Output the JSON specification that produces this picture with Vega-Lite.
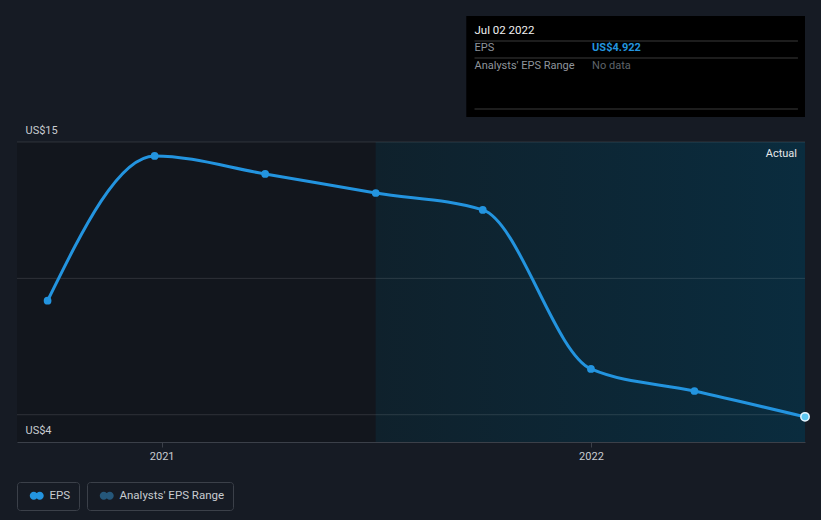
{
  "$schema": "https://vega.github.io/schema/vega-lite/v6.json",
  "width": 788,
  "height": 300,
  "autosize": {"type": "none"},
  "padding": {"left": 17, "top": 142, "right": 16, "bottom": 78},
  "background": "#161b24",
  "config": {
    "font": "Roboto",
    "view": {"stroke": null},
    "axis": {"labelFont": "Roboto", "labelColor": "#c8ccd1", "labelFontSize": 11}
  },
  "datasets": {
    "eps": [
      {"date": "2020-09-26", "eps": 9.18},
      {"date": "2020-12-26", "eps": 14.49},
      {"date": "2021-03-30", "eps": 13.83},
      {"date": "2021-07-02", "eps": 13.13},
      {"date": "2021-10-01", "eps": 12.51},
      {"date": "2022-01-01", "eps": 6.68},
      {"date": "2022-03-30", "eps": 5.87},
      {"date": "2022-07-02", "eps": 4.922}
    ],
    "regions": [
      {"start": "2020-08-31", "end": "2021-07-02", "region": "past"}
    ],
    "actual": [
      {"start": "2021-07-02", "end": "2022-07-02", "region": "Actual"}
    ],
    "grid": [{"v": 5}, {"v": 10}, {"v": 15}],
    "range": [],
    "one": [{}]
  },
  "layer": [
    {
      "data": {"name": "regions"},
      "mark": {"type": "rect", "color": "#12161d"},
      "encoding": {
        "x": {"field": "start", "type": "temporal", "scale": {"type": "utc", "domain": [{"year": 2020, "month": 8, "date": 31, "utc": true}, {"year": 2022, "month": 7, "date": 2, "utc": true}]},
          "axis": {"values": [{"year": 2021, "month": 1, "date": 1, "utc": true}, {"year": 2022, "month": 1, "date": 1, "utc": true}], "format": "%Y", "title": null, "grid": false, "domainColor": "#3b4049", "tickColor": "#3b4049", "tickSize": 5, "labelPadding": 3, "labelFlush": false, "zindex": 1}},
        "x2": {"field": "end"},
        "y": {"datum": 15, "type": "quantitative", "scale": {"domain": [4, 15], "nice": false, "zero": false},
          "axis": {"values": [4, 15], "labelExpr": "'US$' + datum.value", "title": null, "grid": false, "domain": false, "ticks": false, "tickSize": 0, "labelAlign": "left", "labelPadding": -8, "labelBaseline": "bottom", "labelOffset": -7, "labelFlush": false, "labelOverlap": false, "labelFontSize": 11, "zindex": 1}},
        "y2": {"datum": 4}
      }
    },
    {
      "data": {"name": "actual"},
      "mark": {"type": "rect", "color": {"gradient": "linear", "x1": 0, "y1": 0, "x2": 1, "y2": 0, "stops": [{"offset": 0, "color": "#0f212c"}, {"offset": 1, "color": "#0a2c3e"}]}},
      "encoding": {
        "x": {"field": "start", "type": "temporal"},
        "x2": {"field": "end"},
        "y": {"datum": 15, "type": "quantitative"},
        "y2": {"datum": 4}
      }
    },
    {
      "data": {"name": "grid"},
      "mark": {"type": "rule", "color": "#ffffff", "opacity": 0.12, "strokeWidth": 1},
      "encoding": {
        "y": {"field": "v", "type": "quantitative"}
      }
    },
    {
      "data": {"name": "range"},
      "mark": {"type": "area"},
      "encoding": {
        "x": {"field": "date", "type": "temporal"},
        "y": {"field": "low", "type": "quantitative"},
        "y2": {"field": "high"},
        "fill": {"field": "series", "type": "nominal",
          "scale": {"domain": ["Analysts' EPS Range"], "range": ["#25577a"]},
          "legend": {"orient": "none", "legendX": 70, "legendY": 340, "title": null, "direction": "horizontal",
            "strokeColor": "#3b4049", "cornerRadius": 3, "padding": 8,
            "labelColor": "#c8ccd1", "labelFontSize": 11.5, "labelFont": "Roboto", "labelOffset": 13,
            "symbolType": "M -0.25 0 A 1 1 0 1 1 1.75 0 A 1 1 0 1 1 -0.25 0 Z M 1.25 0 A 1 1 0 1 1 3.25 0 A 1 1 0 1 1 1.25 0 Z",
            "symbolSize": 64,
            "encode": {"symbols": {"update": {"fill": {"value": {"gradient": "linear", "x1": 0, "y1": 0, "x2": 1, "y2": 0, "stops": [{"offset": 0, "color": "#25577a"}, {"offset": 0.5, "color": "#25577a"}, {"offset": 0.5, "color": "#3a7f7f"}, {"offset": 1, "color": "#3a7f7f"}]}}, "strokeWidth": {"value": 0}, "opacity": {"value": 1}}}}
          }}
      }
    },
    {
      "data": {"name": "eps"},
      "mark": {"type": "line", "interpolate": "monotone", "strokeWidth": 3},
      "encoding": {
        "x": {"field": "date", "type": "temporal"},
        "y": {"field": "eps", "type": "quantitative"},
        "color": {"datum": "EPS", "type": "nominal",
          "scale": {"domain": ["EPS"], "range": ["#2394df"]},
          "legend": {"orient": "none", "legendX": 0, "legendY": 340, "title": null, "direction": "horizontal",
            "strokeColor": "#3b4049", "cornerRadius": 3, "padding": 8,
            "labelColor": "#c8ccd1", "labelFontSize": 11.5, "labelFont": "Roboto", "labelOffset": 13,
            "symbolType": "M -0.25 0 A 1 1 0 1 1 1.75 0 A 1 1 0 1 1 -0.25 0 Z M 1.25 0 A 1 1 0 1 1 3.25 0 A 1 1 0 1 1 1.25 0 Z",
            "symbolSize": 64,
            "encode": {"symbols": {"update": {"fill": {"value": {"gradient": "linear", "x1": 0, "y1": 0, "x2": 1, "y2": 0, "stops": [{"offset": 0, "color": "#2394df"}, {"offset": 0.5, "color": "#2394df"}, {"offset": 0.5, "color": "#6de0e0"}, {"offset": 1, "color": "#6de0e0"}]}}, "strokeWidth": {"value": 0}, "opacity": {"value": 1}}}}
          }}
      }
    },
    {
      "data": {"name": "eps"},
      "mark": {"type": "point", "filled": true, "size": 60, "opacity": 1},
      "encoding": {
        "x": {"field": "date", "type": "temporal"},
        "y": {"field": "eps", "type": "quantitative"},
        "color": {"datum": "EPS", "type": "nominal"}
      }
    },
    {
      "data": {"name": "eps"},
      "transform": [{"filter": "datum.eps < 5"}],
      "mark": {"type": "point", "filled": true, "size": 70, "opacity": 1, "fill": "#5ec8f2", "stroke": "#e8f6ff", "strokeWidth": 1.5},
      "encoding": {
        "x": {"field": "date", "type": "temporal"},
        "y": {"field": "eps", "type": "quantitative"}
      }
    },
    {
      "data": {"name": "actual"},
      "mark": {"type": "text", "align": "right", "baseline": "top", "dx": -8, "dy": 6, "color": "#e6e8ea", "fontSize": 11, "font": "Roboto"},
      "encoding": {
        "x": {"field": "end", "type": "temporal"},
        "y": {"datum": 15, "type": "quantitative"},
        "text": {"field": "region"}
      }
    },
    {
      "data": {"name": "one"},
      "mark": {"type": "rect", "color": "#000000"},
      "encoding": {
        "x": {"datum": {"year": 2021, "month": 9, "date": 17, "utc": true}, "type": "temporal"},
        "x2": {"datum": {"year": 2022, "month": 7, "date": 2, "utc": true}},
        "y": {"datum": 19.62, "type": "quantitative"},
        "y2": {"datum": 15.917}
      }
    },
    {
      "data": {"values": [{"y": 18.703}, {"y": 18.08}, {"y": 16.21}]},
      "mark": {"type": "rule", "color": "#3a3a3a", "strokeWidth": 1},
      "encoding": {
        "x": {"datum": {"year": 2021, "month": 9, "date": 24, "utc": true}, "type": "temporal"},
        "x2": {"datum": {"year": 2022, "month": 6, "date": 26, "utc": true}},
        "y": {"field": "y", "type": "quantitative"}
      }
    },
    {
      "data": {"name": "one"},
      "mark": {"type": "text", "align": "left", "baseline": "middle", "color": "#f0f0f0", "fontSize": 11.5, "font": "Roboto"},
      "encoding": {
        "x": {"datum": {"year": 2021, "month": 9, "date": 24, "utc": true}, "type": "temporal"},
        "y": {"datum": 19.07, "type": "quantitative"},
        "text": {"value": "Jul 02 2022"}
      }
    },
    {
      "data": {"name": "one"},
      "mark": {"type": "text", "align": "left", "baseline": "middle", "color": "#8f959c", "fontSize": 11, "font": "Roboto"},
      "encoding": {
        "x": {"datum": {"year": 2021, "month": 9, "date": 24, "utc": true}, "type": "temporal"},
        "y": {"datum": 18.447, "type": "quantitative"},
        "text": {"value": "EPS"}
      }
    },
    {
      "data": {"name": "one"},
      "mark": {"type": "text", "align": "left", "baseline": "middle", "color": "#2394df", "fontSize": 11, "fontWeight": "bold", "font": "Roboto"},
      "encoding": {
        "x": {"datum": {"year": 2022, "month": 1, "date": 2, "utc": true}, "type": "temporal"},
        "y": {"datum": 18.447, "type": "quantitative"},
        "text": {"value": "US$4.922"}
      }
    },
    {
      "data": {"name": "one"},
      "mark": {"type": "text", "align": "left", "baseline": "middle", "color": "#8f959c", "fontSize": 11, "font": "Roboto"},
      "encoding": {
        "x": {"datum": {"year": 2021, "month": 9, "date": 24, "utc": true}, "type": "temporal"},
        "y": {"datum": 17.787, "type": "quantitative"},
        "text": {"value": "Analysts' EPS Range"}
      }
    },
    {
      "data": {"name": "one"},
      "mark": {"type": "text", "align": "left", "baseline": "middle", "color": "#5f646a", "fontSize": 11, "font": "Roboto"},
      "encoding": {
        "x": {"datum": {"year": 2022, "month": 1, "date": 2, "utc": true}, "type": "temporal"},
        "y": {"datum": 17.787, "type": "quantitative"},
        "text": {"value": "No data"}
      }
    }
  ]
}
